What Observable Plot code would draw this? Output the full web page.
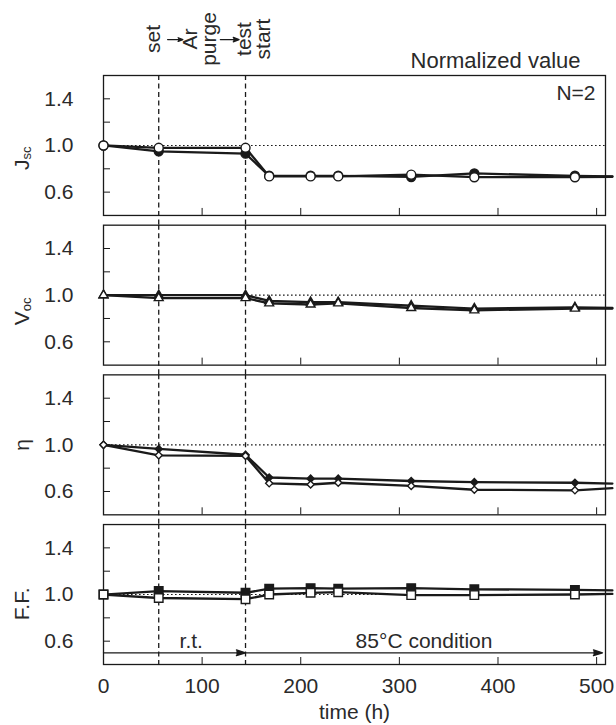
<!DOCTYPE html>
<html>
<head>
<meta charset="utf-8">
<script src="https://cdn.jsdelivr.net/npm/d3@7"></script>
<script src="https://cdn.jsdelivr.net/npm/@observablehq/plot@0.6"></script>
<style>
  body { margin: 0; background: #fff; }
  #chart svg { display: block; }
</style>
</head>
<body>
<div id="chart"></div>
<script>
// ---- data ----
const panels = ["Jsc", "Voc", "η", "F.F."];
const symbols = ["circle", "triangle", "diamond2", "square"];
const markerTimes = [0, 56, 144, 168, 210, 238, 312, 376, 478];
const lineEndTime = 516; // line continues to the edge, no marker

const jscFilled = [1.00, 0.95, 0.93, 0.74, 0.74, 0.74, 0.73, 0.76, 0.74, 0.735];
const jscOpen   = [1.00, 0.98, 0.98, 0.735, 0.735, 0.735, 0.75, 0.728, 0.728, 0.732];
const vocFilled = [1.00, 1.00, 1.00, 0.95, 0.94, 0.94, 0.91, 0.885, 0.895, 0.89];
const vocOpen   = [1.00, 0.975, 0.975, 0.93, 0.92, 0.93, 0.89, 0.87, 0.885, 0.885];
const etaFilled = [1.00, 0.965, 0.915, 0.72, 0.71, 0.71, 0.69, 0.68, 0.675, 0.668];
const etaOpen   = [1.00, 0.91, 0.905, 0.67, 0.66, 0.675, 0.648, 0.615, 0.61, 0.628];
const ffFilled  = [1.00, 1.03, 1.015, 1.05, 1.055, 1.05, 1.055, 1.045, 1.04, 1.035];
const ffOpen    = [1.00, 0.97, 0.96, 1.00, 1.015, 1.02, 0.995, 0.995, 1.00, 1.005];

const eventTimes = [56, 144];                 // set / test start (dashed lines)
const xTickLabels = [0, 100, 200, 300, 400, 500];
const xTicks = [100, 200, 300, 400, 500];
const yTickLabels = [0.6, 1.0, 1.4];
const yTicks = [0.6, 0.8, 1.0, 1.2, 1.4];
const yLabelPos = [0.89, 0.86, 1.0, 0.92];    // vertical placement of panel labels

const stepLabels = ["set", "Ar\npurge", "test\nstart"];
const stepLabelTimes = [51, 98.5, 153.5];
const stepLabelY = 1.913;
const stepArrows = [[65, 80.5], [118.5, 137.5]];
const stepArrowY = 1.908;

const periodLabels = ["r.t.", "85°C condition"];
const periodLabelTimes = [89, 325];
const periodArrows = [[0, 144], [144, 506]];
const periodY = 0.5;

// ---- build tables ----
const valuesByPanel = [[jscFilled, jscOpen], [vocFilled, vocOpen], [etaFilled, etaOpen], [ffFilled, ffOpen]];
const allTimes = [...markerTimes, lineEndTime];
const rows = [];
panels.forEach((p, i) => {
  ["filled", "open"].forEach((s, j) => {
    valuesByPanel[i][j].forEach((v, k) => {
      rows.push({panel: p, series: s, t: allTimes[k], v, marked: k < markerTimes.length, sym: symbols[i]});
    });
  });
});
const markerSizes = {circle: 4.5, triangle: 3.3, diamond2: 3.2, square: 4.8};

const dashRows = [];
panels.forEach((p, i) => eventTimes.forEach(t => dashRows.push({panel: p, t, last: i === panels.length - 1})));

const labelRows = panels.map((p, i) => ({panel: p, v: yLabelPos[i], label: p}));
const stepRows = stepLabels.map((l, i) => ({panel: panels[0], t: stepLabelTimes[i], v: stepLabelY, label: l}));
const stepArrowRows = stepArrows.map(([a, b]) => ({panel: panels[0], x1: a, x2: b, y: stepArrowY}));
const periodRows = periodLabels.map((l, i) => ({panel: panels[3], t: periodLabelTimes[i], v: periodY, label: l}));
const periodArrowRows = periodArrows.map(([a, b]) => ({panel: panels[3], x1: a, x2: b, y: periodY}));

const ink = "#1a1a1a";
const textInk = "#2a2a2a";

const dotMarks = [];
["filled", "open"].forEach(s => {
  symbols.forEach(sym => {
    dotMarks.push(Plot.dot(rows.filter(r => r.series === s && r.marked && r.sym === sym), {
      x: "t", y: "v", fy: "panel", symbol: sym, r: markerSizes[sym],
      fill: s === "filled" ? ink : "white", stroke: ink, strokeWidth: 1.4
    }));
  });
});

const chart = Plot.plot({
  width: 616,
  height: 725,
  marginLeft: 103,
  marginRight: 11,
  marginTop: 75,
  marginBottom: 61,
  style: {fontFamily: "'Liberation Sans', Arial, sans-serif", fontSize: "21px", color: ink, background: "white"},
  x: {domain: [0, 509]},
  y: {domain: [0.4, 1.6]},
  fy: {domain: panels, paddingInner: 0.065, paddingOuter: 0, round: false, axis: null, label: null},
  marks: [
    Plot.ruleY([1], {stroke: ink, strokeWidth: 1.1, strokeDasharray: "1.6,2.4"}),
    Plot.ruleX(dashRows.filter(d => !d.last), {x: "t", fy: "panel", stroke: ink, strokeWidth: 1.3, strokeDasharray: "5,3.5", insetBottom: -10}),
    Plot.ruleX(dashRows.filter(d => d.last), {x: "t", fy: "panel", stroke: ink, strokeWidth: 1.3, strokeDasharray: "5,3.5"}),
    Plot.frame({stroke: ink, strokeWidth: 1.3}),
    Plot.axisY({ticks: yTicks, tickSize: -7, text: null, label: null, strokeWidth: 1}),
    Plot.axisY({ticks: yTickLabels, tickSize: 0, tickPadding: 30, tickFormat: d => d.toFixed(1), label: null, fill: textInk}),
    Plot.axisX({ticks: xTicks, tickSize: -7, text: null, label: null, facetAnchor: null, strokeWidth: 1}),
    Plot.axisX({ticks: xTickLabels, tickSize: 0, tickPadding: 14, label: "time (h)", labelAnchor: "center", labelOffset: 54, labelArrow: "none", fill: textInk}),
    Plot.line(rows, {x: "t", y: "v", fy: "panel", z: "series", stroke: ink, strokeWidth: 2.3}),
    ...dotMarks,
    Plot.arrow(periodArrowRows, {x1: "x1", x2: "x2", y1: "y", y2: "y", fy: "panel", stroke: ink, fill: ink, strokeWidth: 1.3, headLength: 11, headAngle: 35}),
    Plot.arrow(stepArrowRows, {x1: "x1", x2: "x2", y1: "y", y2: "y", fy: "panel", stroke: ink, fill: ink, strokeWidth: 1.3, headLength: 9, headAngle: 42}),
    Plot.text(periodRows, {x: "t", y: "v", fy: "panel", text: "label", lineAnchor: "bottom", dy: -5, fill: textInk}),
    Plot.text(stepRows, {x: "t", y: "v", fy: "panel", text: "label", rotate: -90, textAnchor: "middle", lineAnchor: "middle", lineHeight: 0.9, fill: textInk}),
    Plot.text(labelRows, {y: "v", fy: "panel", text: "label", frameAnchor: "left", dx: -81, rotate: -90, textAnchor: "middle", lineAnchor: "middle", fill: textInk}),
    Plot.text([{panel: panels[0], label: "N=2"}], {fy: "panel", text: "label", frameAnchor: "top-right", textAnchor: "end", lineAnchor: "top", dx: -10, dy: 10, fill: textInk}),
    Plot.text([{panel: panels[0], label: "Normalized value"}], {fy: "panel", text: "label", frameAnchor: "top-right", textAnchor: "end", lineAnchor: "bottom", dx: -25, dy: -8, fontSize: 22, fill: textInk})
  ]
});

// subscripts for Jsc and Voc
chart.querySelectorAll("text").forEach(t => {
  const s = t.textContent;
  if (s === "Jsc" || s === "Voc") {
    t.textContent = "";
    t.appendChild(document.createTextNode(s[0]));
    const ts = document.createElementNS("http://www.w3.org/2000/svg", "tspan");
    ts.setAttribute("font-size", "0.62em");
    ts.setAttribute("dy", "0.12em");
    ts.textContent = s.slice(1);
    t.appendChild(ts);
  }
});

document.getElementById("chart").appendChild(chart);
</script>
</body>
</html>
